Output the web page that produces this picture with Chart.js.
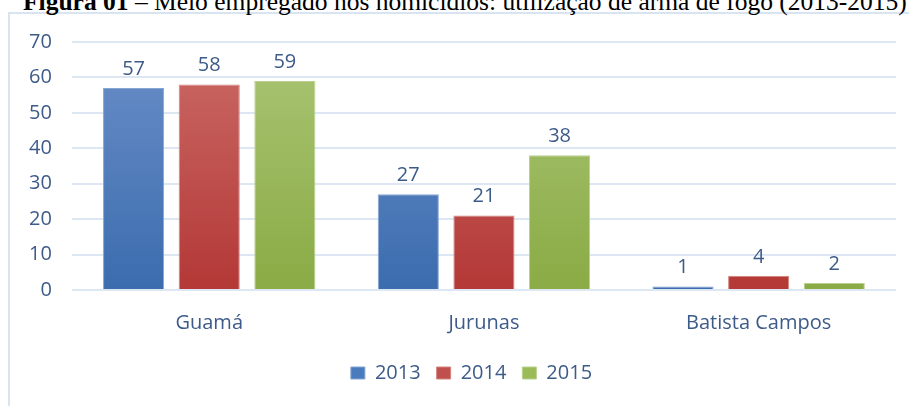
<!DOCTYPE html>
<html>
<head>
<meta charset="utf-8">
<script src="https://cdn.jsdelivr.net/npm/chart.js@4.4.0/dist/chart.umd.min.js"></script>
<style>
  html, body { margin: 0; padding: 0; background: #fff; overflow: hidden; }
  #wrap { position: relative; width: 909px; height: 406px; }
  #frame { position: absolute; left: 8px; top: 12px; width: 1000px; height: 500px;
           border-left: 2px solid #d9e4f2; border-top: 2px solid #d9e4f2; }
  #title { position: absolute; left: 23px; top: -10px; font: 25.5px "Liberation Serif", serif;
           line-height: 24px; white-space: nowrap; color: #000; }
  canvas { position: absolute; left: 0; top: 0; }
</style>
</head>
<body>
<div id="wrap">
  <div id="frame"></div>
  <div id="title"><b>Figura 01</b> – Meio empregado nos homicídios: utilização de arma de fogo (2013-2015)</div>
  <canvas id="chart" width="909" height="406"></canvas>
</div>
<script>
// bairros
const categories = ['Guamá', 'Jurunas', 'Batista Campos'];
const years = ['2013', '2014', '2015'];
const values2013 = [57, 27, 1];
const values2014 = [58, 21, 4];
const values2015 = [59, 38, 2];
const yTicks = [0, 10, 20, 30, 40, 50, 60, 70];

const textColor = '#3d5b89';
const fontFam = '"Open Sans", "Noto Sans", sans-serif';
// [top, bottom, solid, border]
const palette = [
  ['#6b8fc8', '#3b6cae', '#4a7bbd', '#86a5d3'],
  ['#cb6b67', '#b33836', '#c0504d', '#d4847f'],
  ['#aac575', '#8aab45', '#9bbb59', '#b9d08e']
];

function grad(idx){
  return function(ctx){
    const ch = ctx.chart;
    const area = ch.chartArea;
    if (!area) return palette[idx][2];
    const g = ch.ctx.createLinearGradient(0, area.top, 0, area.bottom);
    g.addColorStop(0, palette[idx][0]);
    g.addColorStop(1, palette[idx][1]);
    return g;
  };
}

const series = [values2013, values2014, values2015];

// rotulos em cima das barras
const barLabels = {
  id: 'barLabels',
  afterDatasetsDraw(chart){
    const ctx = chart.ctx;
    ctx.save();
    ctx.font = '20px ' + fontFam;
    ctx.fillStyle = textColor;
    ctx.textAlign = 'center';
    ctx.textBaseline = 'middle';
    chart.data.datasets.forEach((ds, i) => {
      chart.getDatasetMeta(i).data.forEach((bar, j) => {
        ctx.fillText(String(ds.data[j]), bar.x, bar.y - 19);
      });
    });
    ctx.restore();
  }
};

// legenda um pouco para a direita, como no original
const legendShift = {
  id: 'legendShift',
  afterLayout(chart){
    if (chart.legend) {
      chart.legend.left += 19;
      chart.legend.right += 19;
    }
  }
};

new Chart(document.getElementById('chart'), {
  type: 'bar',
  data: {
    labels: categories,
    datasets: years.map((y, i) => ({
      label: y,
      data: series[i],
      backgroundColor: grad(i),
      borderColor: palette[i][3],
      borderWidth: 1,
      categoryPercentage: 0.826,
      barPercentage: 0.808
    }))
  },
  options: {
    responsive: false,
    animation: false,
    layout: { padding: { left: 9, right: 13, top: 42, bottom: 13 } },
    scales: {
      x: {
        grid: { display: false, drawTicks: false },
        border: { display: false },
        ticks: { color: textColor, font: { family: fontFam, size: 20 }, padding: 21 },
        afterFit(scale){ scale.height -= 9; }
      },
      y: {
        min: 0, max: 70,
        afterBuildTicks(axis){ axis.ticks = yTicks.map(v => ({ value: v })); },
        grid: { color: '#dde7f3', lineWidth: 2, drawTicks: false },
        border: { display: false },
        ticks: { color: textColor, font: { family: fontFam, size: 20 }, padding: 20 }
      }
    },
    plugins: {
      legend: {
        position: 'bottom',
        labels: {
          color: textColor,
          font: { family: fontFam, size: 20 },
          boxWidth: 14,
          boxHeight: 12,
          padding: 16,
          generateLabels(chart){
            return chart.data.datasets.map((ds, i) => ({
              text: ds.label,
              fillStyle: palette[i][2],
              strokeStyle: palette[i][3],
              lineWidth: 1,
              fontColor: textColor,
              datasetIndex: i
            }));
          }
        }
      },
      tooltip: { enabled: false }
    }
  },
  plugins: [barLabels, legendShift]
});
</script>
</body>
</html>
